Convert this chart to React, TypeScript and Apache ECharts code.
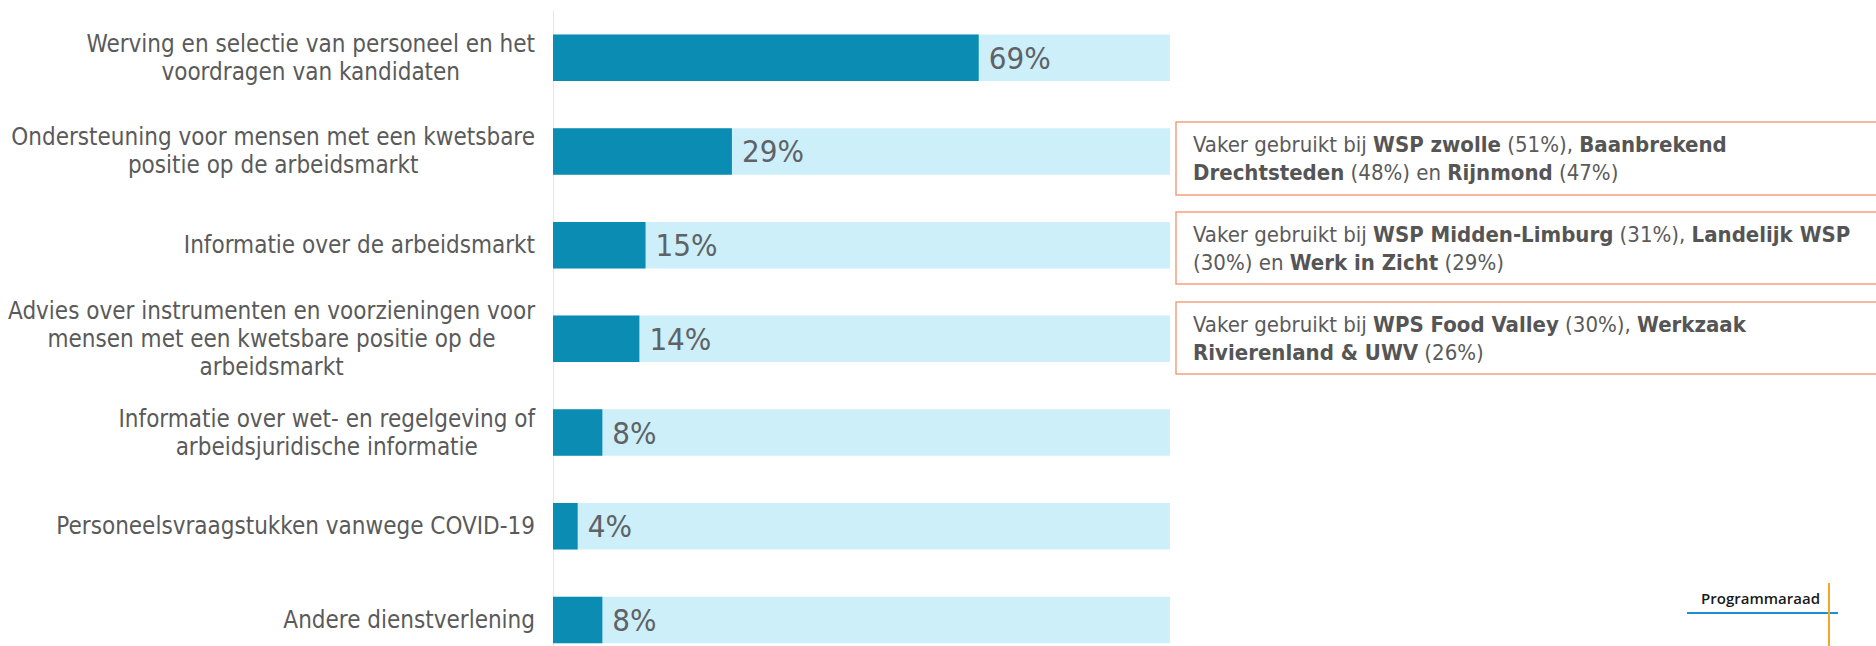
import React, { useEffect, useRef } from "react";
import * as echarts from "echarts";

const categories: string[] = [
  "Werving en selectie van personeel en het\nvoordragen van kandidaten",
  "Ondersteuning voor mensen met een kwetsbare\npositie op de arbeidsmarkt",
  "Informatie over de arbeidsmarkt",
  "Advies over instrumenten en voorzieningen voor\nmensen met een kwetsbare positie op de\narbeidsmarkt",
  "Informatie over wet- en regelgeving of\narbeidsjuridische informatie",
  "Personeelsvraagstukken vanwege COVID-19",
  "Andere dienstverlening",
];
const values: number[] = [69, 29, 15, 14, 8, 4, 8];

// annotation texts: segments [text, bold]
const note1: [string, boolean][][] = [
  [["Vaker gebruikt bij ", false], ["WSP zwolle", true], [" (51%), ", false], ["Baanbrekend", true]],
  [["Drechtsteden", true], [" (48%) en ", false], ["Rijnmond", true], [" (47%)", false]],
];
const note2: [string, boolean][][] = [
  [["Vaker gebruikt bij ", false], ["WSP Midden-Limburg", true], [" (31%), ", false], ["Landelijk WSP", true]],
  [["(30%) en ", false], ["Werk in Zicht", true], [" (29%)", false]],
];
const note3: [string, boolean][][] = [
  [["Vaker gebruikt bij ", false], ["WPS Food Valley", true], [" (30%), ", false], ["Werkzaak", true]],
  [["Rivierenland & UWV", true], [" (26%)", false]],
];
const logoText = "Programmaraad";

const NARROW = "'Liberation Sans Narrow', 'DejaVu Sans Condensed', 'Open Sans', sans-serif";
const GRAY = "#5a5a5a";

function toRich(lines: [string, boolean][][]): string {
  return lines
    .map((line) => line.map(([t, b]) => `{${b ? "b" : "n"}|${t}}`).join(""))
    .join("\n");
}

export default function App() {
  const ref = useRef<HTMLDivElement>(null);
  useEffect(() => {
    if (!ref.current) return;
    const chart = echarts.init(ref.current, undefined, { renderer: "svg" });
    const noteRich = {
      n: { fontFamily: NARROW, fontSize: 22, fill: GRAY, lineHeight: 28 },
      b: { fontFamily: NARROW, fontSize: 22, fill: "#555555", fontWeight: "bold", lineHeight: 28 },
    };
    const boxes = [
      { y: 122, h: 73, lines: note1 },
      { y: 212, h: 72, lines: note2 },
      { y: 302, h: 72, lines: note3 },
    ];
    const graphics: any[] = [];
    boxes.forEach((bx) => {
      graphics.push({
        type: "rect",
        shape: { x: 1176, y: bx.y, width: 720, height: bx.h },
        style: { fill: "#fff", stroke: "#F4A07C", lineWidth: 1.5 },
      });
      graphics.push({
        type: "text",
        x: 1193,
        y: bx.y + bx.h / 2,
        style: {
          text: toRich(bx.lines),
          rich: noteRich,
          verticalAlign: "middle",
          align: "left",
        },
      });
    });
    graphics.push({
      type: "text",
      x: 1820,
      y: 598,
      style: {
        text: logoText,
        fontFamily: "'Open Sans', sans-serif",
        fontWeight: 600,
        fontSize: 15,
        fill: "#1a1a1a",
        align: "right",
        verticalAlign: "middle",
      },
    });
    graphics.push({
      type: "line",
      shape: { x1: 1687, y1: 613, x2: 1838, y2: 613 },
      style: { stroke: "#1E8FD6", lineWidth: 2 },
    });
    graphics.push({
      type: "line",
      shape: { x1: 1829, y1: 583, x2: 1829, y2: 680 },
      style: { stroke: "#F5A623", lineWidth: 2 },
    });

    chart.setOption({
      animation: false,
      grid: { left: 553, top: 10.85, width: 617, height: 656, containLabel: false },
      xAxis: {
        type: "value",
        min: 0,
        max: 100,
        show: false,
      },
      yAxis: {
        type: "category",
        data: categories,
        inverse: true,
        axisTick: { show: false },
        axisLine: { show: true, lineStyle: { color: "#e6e6e6", width: 1 } },
        axisLabel: {
          margin: 18,
          align: "right",
          formatter: (v: string) =>
            v
              .split("\n")
              .map((l) => `{c|${l}}`)
              .join("\n"),
          rich: {
            c: {
              align: "center",
              fontFamily: NARROW,
              fontSize: 24,
              lineHeight: 28,
              color: GRAY,
            },
          },
        },
      },
      series: [
        {
          type: "bar",
          data: values,
          barWidth: 46.5,
          itemStyle: { color: "#0B8CB3" },
          showBackground: true,
          backgroundStyle: { color: "#CDEFFA" },
          label: {
            show: true,
            position: "right",
            distance: 10,
            formatter: "{c}%",
            fontFamily: NARROW,
            fontSize: 31,
            color: "#5f6266",
          },
        },
      ],
      graphic: graphics,
    });
    return () => chart.dispose();
  }, []);
  return (
    <div
      style={{ position: "absolute", left: 0, top: 0, width: 1876, height: 646, overflow: "hidden", background: "#fff" }}
    >
      <div ref={ref} style={{ width: 1876, height: 700 }} />
    </div>
  );
}
